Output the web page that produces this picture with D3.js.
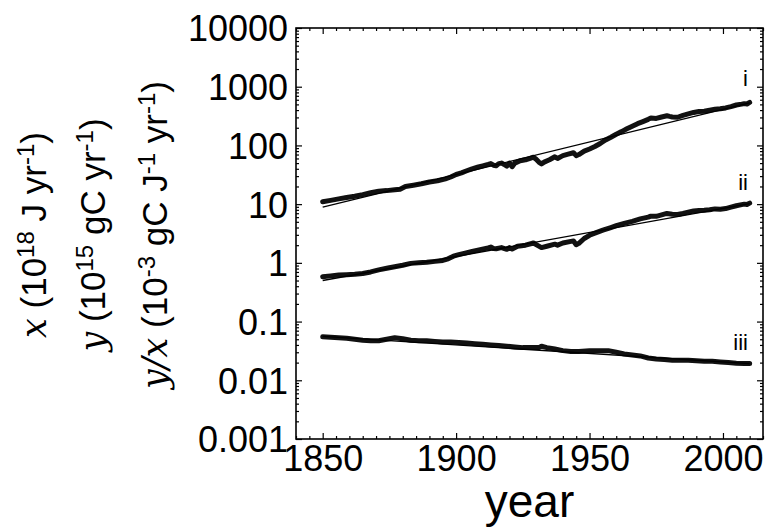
<!DOCTYPE html>
<html>
<head>
<meta charset="utf-8">
<script src="https://cdn.jsdelivr.net/npm/d3@7"></script>
<style>
  body { margin: 0; background: #fff; }
  svg { display: block; }
  text { font-family: "Liberation Sans", Arial, sans-serif; fill: #000; }
</style>
</head>
<body>
<div id="chart"></div>
<script>
// axis ticks
const xTicks = [1850, 1900, 1950, 2000];
const xTickLabels = ["1850", "1900", "1950", "2000"];
const yTicks = [0.001, 0.01, 0.1, 1, 10, 100, 1000, 10000];
const yTickLabels = ["0.001", "0.01", "0.1", "1", "10", "100", "1000", "10000"];
const seriesNames = ["i", "ii", "iii"];

// i : x, energy (10^18 J/yr)
const seriesI = [[1850,11.0],[1853,11.6],[1856,12.3],[1859,13.0],[1862,13.6],[1865,14.5],[1868,15.6],[1871,16.6],[1874,17.0],[1877,17.6],[1879,18.0],[1881,20.0],[1884,21.0],[1887,22.2],[1890,23.8],[1893,25.0],[1896,27.0],[1898,29.0],[1900,32.0],[1902,34.0],[1904,37.0],[1906,40.0],[1908,42.5],[1910,45.0],[1912,47.5],[1913,49.0],[1914,46.0],[1915,45.0],[1916,49.0],[1917,50.0],[1918,47.5],[1919,44.5],[1920,50.0],[1921,43.5],[1922,50.0],[1924,55.0],[1926,57.0],[1928,61.0],[1929,63.0],[1930,58.0],[1931,52.0],[1932,48.5],[1933,52.0],[1935,57.0],[1937,64.0],[1938,60.0],[1940,67.0],[1942,71.0],[1944,75.0],[1945,67.0],[1946,70.0],[1948,80.0],[1950,87.0],[1952,96.0],[1954,108],[1956,124],[1958,138],[1960,155],[1962,172],[1964,192],[1966,212],[1968,235],[1970,255],[1972,278],[1973,292],[1974,290],[1975,288],[1977,305],[1979,320],[1980,312],[1981,305],[1983,302],[1985,325],[1987,345],[1989,365],[1991,378],[1993,382],[1995,398],[1997,412],[1999,420],[2001,435],[2003,458],[2005,488],[2007,505],[2008,515],[2009,508],[2010,540]];
const fitI = [[1850, 8.9], [2010, 530]];

// ii : y, carbon (10^15 gC/yr)
const seriesII = [[1850,0.58],[1853,0.60],[1856,0.62],[1859,0.63],[1862,0.64],[1865,0.66],[1868,0.70],[1871,0.76],[1874,0.81],[1877,0.86],[1880,0.91],[1883,0.98],[1886,1.00],[1889,1.02],[1892,1.06],[1895,1.10],[1897,1.17],[1899,1.30],[1901,1.38],[1903,1.45],[1906,1.57],[1909,1.68],[1912,1.80],[1913,1.86],[1914,1.76],[1915,1.74],[1917,1.82],[1919,1.70],[1920,1.82],[1921,1.72],[1923,1.92],[1926,2.00],[1929,2.18],[1930,2.05],[1932,1.82],[1934,1.92],[1937,2.08],[1938,2.00],[1940,2.18],[1943,2.32],[1944,2.36],[1945,2.04],[1946,2.15],[1948,2.60],[1950,2.95],[1952,3.20],[1955,3.60],[1958,4.00],[1960,4.30],[1963,4.70],[1966,5.10],[1969,5.60],[1972,6.00],[1973,6.25],[1975,6.20],[1977,6.55],[1979,6.95],[1981,6.75],[1983,6.65],[1985,6.95],[1987,7.30],[1989,7.65],[1991,7.80],[1993,7.85],[1995,8.05],[1997,8.30],[1999,8.20],[2001,8.40],[2003,8.90],[2005,9.40],[2007,9.80],[2008,10.0],[2009,9.85],[2010,10.4]];
const fitII = [[1850, 0.50], [2010, 10.2]];

// iii : y/x (10^-3 gC/J)
const seriesIII = [[1850,0.055],[1853,0.054],[1856,0.053],[1859,0.052],[1862,0.050],[1865,0.048],[1868,0.047],[1871,0.047],[1874,0.050],[1877,0.053],[1880,0.051],[1883,0.048],[1886,0.047],[1889,0.047],[1892,0.046],[1895,0.045],[1898,0.045],[1901,0.044],[1904,0.043],[1907,0.042],[1910,0.041],[1913,0.040],[1916,0.039],[1919,0.038],[1922,0.037],[1925,0.036],[1928,0.036],[1931,0.036],[1932,0.038],[1934,0.036],[1937,0.034],[1940,0.032],[1943,0.031],[1946,0.031],[1950,0.032],[1954,0.032],[1957,0.032],[1960,0.030],[1963,0.028],[1966,0.027],[1969,0.026],[1972,0.024],[1975,0.023],[1978,0.0225],[1981,0.022],[1984,0.022],[1987,0.022],[1990,0.0215],[1993,0.021],[1996,0.021],[1999,0.0205],[2002,0.020],[2005,0.0195],[2008,0.0193],[2010,0.0193]];
const fitIII = [[1850, 0.056], [2010, 0.0192]];

const width = 769;
const height = 528;
const plotLeft = 296, plotRight = 763, plotTop = 28, plotBottom = 439;

const svg = d3.select('#chart').append('svg')
  .attr('width', width)
  .attr('height', height);

const x = d3.scaleLinear().domain([1840, 2015]).range([plotLeft, plotRight]);
const y = d3.scaleLog().domain([0.001, 10000]).range([plotBottom, plotTop]);

// minor tick positions
const yMinor = [];
for (let e = -3; e < 4; e++) {
  for (let k = 2; k < 10; k++) yMinor.push(k * Math.pow(10, e));
}
const xMinor = d3.range(1840, 2016, 5).filter(v => v % 50 !== 0);

const fmtY = d => yTickLabels[yTicks.indexOf(d)];
const fmtX = d => xTickLabels[xTicks.indexOf(d)];

// left / right y axes (ticks inward)
const gl = svg.append('g').attr('transform', `translate(${plotLeft},0)`)
  .call(d3.axisLeft(y).tickValues(yTicks).tickSize(-6).tickPadding(8).tickFormat(fmtY));
gl.selectAll('text').style('font-size', '36px').attr('dy', '0.36em');
svg.append('g').attr('transform', `translate(${plotLeft},0)`)
  .call(d3.axisLeft(y).tickValues(yMinor).tickSize(-3).tickFormat(''));
svg.append('g').attr('transform', `translate(${plotRight},0)`)
  .call(d3.axisRight(y).tickValues(yTicks).tickSize(-6).tickFormat(''));
svg.append('g').attr('transform', `translate(${plotRight},0)`)
  .call(d3.axisRight(y).tickValues(yMinor).tickSize(-3).tickFormat(''));

// bottom / top x axes
const gb = svg.append('g').attr('transform', `translate(0,${plotBottom})`)
  .call(d3.axisBottom(x).tickValues(xTicks).tickSize(-6).tickPadding(5).tickFormat(fmtX));
gb.selectAll('text').style('font-size', '36px').attr('dy', '0.76em');
svg.append('g').attr('transform', `translate(0,${plotBottom})`)
  .call(d3.axisBottom(x).tickValues(xMinor).tickSize(-3).tickFormat(''));
svg.append('g').attr('transform', `translate(0,${plotTop})`)
  .call(d3.axisTop(x).tickValues(xTicks).tickSize(-6).tickFormat(''));
svg.append('g').attr('transform', `translate(0,${plotTop})`)
  .call(d3.axisTop(x).tickValues(xMinor).tickSize(-3).tickFormat(''));

svg.selectAll('.domain').remove();
svg.selectAll('.tick line').attr('stroke', '#000').attr('stroke-width', 1.2);

// frame
svg.append('rect')
  .attr('x', plotLeft).attr('y', plotTop)
  .attr('width', plotRight - plotLeft).attr('height', plotBottom - plotTop)
  .attr('fill', 'none').attr('stroke', '#000').attr('stroke-width', 1.6);

// lines
const line = d3.line().x(d => x(d[0])).y(d => y(d[1]));
const plot = svg.append('g');

[seriesI, seriesII, seriesIII].forEach(s => {
  plot.append('path').datum(s)
    .attr('d', line)
    .attr('fill', 'none')
    .attr('stroke', '#111')
    .attr('stroke-width', 5)
    .attr('stroke-linejoin', 'round')
    .attr('stroke-linecap', 'round');
});
[fitI, fitII, fitIII].forEach(f => {
  plot.append('path').datum(f)
    .attr('d', line)
    .attr('fill', 'none')
    .attr('stroke', '#000')
    .attr('stroke-width', 1.4);
});

// series labels
const labelPos = [[748, 86], [748, 190], [748, 350]];
seriesNames.forEach((n, i) => {
  svg.append('text')
    .attr('x', labelPos[i][0]).attr('y', labelPos[i][1])
    .attr('text-anchor', 'end')
    .style('font-size', '22px')
    .text(n);
});

// x title
svg.append('text')
  .attr('x', (plotLeft + plotRight) / 2).attr('y', 517)
  .attr('text-anchor', 'middle')
  .style('font-size', '46px')
  .text('year');

// y titles (three stacked lines)
function ylabel(xb, parts) {
  const t = svg.append('text')
    .attr('transform', `translate(${xb},235) rotate(-90)`)
    .attr('text-anchor', 'middle')
    .style('font-size', '35px');
  parts.forEach(p => {
    const ts = t.append('tspan').text(p.t);
    if (p.m) ts.style('font-family', '"DejaVu Serif", "Liberation Serif", serif').style('font-style', 'italic');
    if (p.sup) ts.style('font-size', '24px').attr('dy', '-12');
    if (p.down) ts.attr('dy', '12');
  });
}
ylabel(46, [
  {t: 'x', m: true}, {t: ' (10'}, {t: '18', sup: true},
  {t: ' J yr', down: true}, {t: '-1', sup: true}, {t: ')', down: true}
]);
ylabel(105, [
  {t: 'y', m: true}, {t: ' (10'}, {t: '15', sup: true},
  {t: ' gC yr', down: true}, {t: '-1', sup: true}, {t: ')', down: true}
]);
ylabel(167, [
  {t: 'y/x', m: true}, {t: ' (10'}, {t: '-3', sup: true},
  {t: ' gC J', down: true}, {t: '-1', sup: true},
  {t: ' yr', down: true}, {t: '-1', sup: true}, {t: ')', down: true}
]);
</script>
</body>
</html>
